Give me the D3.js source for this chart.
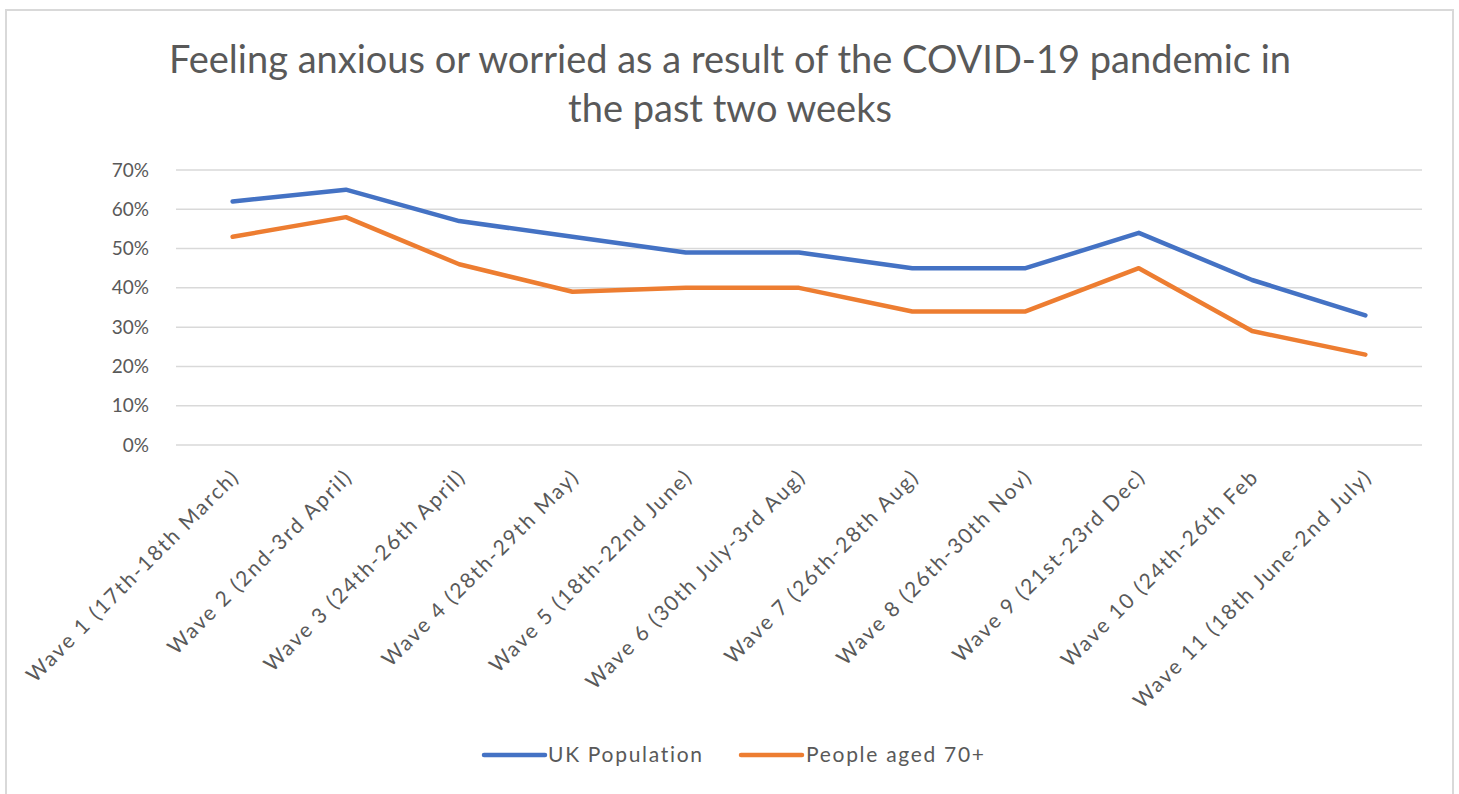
<!DOCTYPE html>
<html>
<head>
<meta charset="utf-8">
<script src="https://cdn.jsdelivr.net/npm/d3@7"></script>
<style>
  html, body { margin: 0; padding: 0; background: #ffffff; }
  svg { display: block; }
  text { font-family: Lato, "Open Sans", sans-serif; fill: #595959; }
</style>
</head>
<body>
<svg id="chart" width="1459" height="794"></svg>
<script>
const categories = [
  "Wave 1 (17th-18th March)",
  "Wave 2 (2nd-3rd April)",
  "Wave 3 (24th-26th April)",
  "Wave 4 (28th-29th May)",
  "Wave 5 (18th-22nd June)",
  "Wave 6 (30th July-3rd Aug)",
  "Wave 7 (26th-28th Aug)",
  "Wave 8 (26th-30th Nov)",
  "Wave 9 (21st-23rd Dec)",
  "Wave 10 (24th-26th Feb",
  "Wave 11 (18th June-2nd July)"
];
const ukPopulation = [0.62, 0.65, 0.57, 0.53, 0.49, 0.49, 0.45, 0.45, 0.54, 0.42, 0.33];
const aged70plus   = [0.53, 0.58, 0.46, 0.39, 0.40, 0.40, 0.34, 0.34, 0.45, 0.29, 0.23];
const yTicks = [0, 0.1, 0.2, 0.3, 0.4, 0.5, 0.6, 0.7];
const seriesNames = ["UK Population", "People aged 70+"];
const seriesColors = ["#4472C4", "#ED7D31"];
const titleLines = ["Feeling anxious or worried as a result of the COVID-19 pandemic in", "the past two weeks"];

const svg = d3.select("#chart");

// chart border
svg.append("rect")
  .attr("x", 6).attr("y", 10).attr("width", 1447).attr("height", 800)
  .attr("fill", "#fff").attr("stroke", "#d9d9d9").attr("stroke-width", 2);

const x = d3.scalePoint().domain(categories).range([176, 1422]).padding(0.5);
const y = d3.scaleLinear().domain([0, 0.7]).range([445, 170]);

// title
svg.append("g").selectAll("text").data(titleLines).join("text")
  .attr("x", 730).attr("y", (d, i) => 73 + i * 49)
  .attr("text-anchor", "middle")
  .style("font-size", "38px")
  .text(d => d);

// gridlines
svg.append("g").selectAll("line").data(yTicks).join("line")
  .attr("x1", 176).attr("x2", 1422)
  .attr("y1", d => y(d)).attr("y2", d => y(d))
  .attr("stroke", "#d9d9d9").attr("stroke-width", 1.5);

// y axis
const yAxis = d3.axisLeft(y).tickValues(yTicks).tickFormat(d3.format(".0%")).tickSize(0).tickPadding(0);
const yg = svg.append("g").attr("transform", "translate(149,0)").call(yAxis);
yg.select(".domain").remove();
yg.selectAll("text").style("font-size", "19px").attr("fill", "#595959").style("font-family", "Lato, sans-serif");

// x axis labels
const xg = svg.append("g");
xg.selectAll("text").data(categories).join("text")
  .attr("transform", d => `translate(${x(d) + 8},${478}) rotate(-45)`)
  .attr("text-anchor", "end")
  .style("font-size", "21px")
  .style("letter-spacing", "1.9px")
  .text(d => d);

// lines
const series = [ukPopulation, aged70plus];
const line = d3.line().x((d, i) => x(categories[i])).y(d => y(d));
svg.append("g").selectAll("path").data(series).join("path")
  .attr("d", d => line(d))
  .attr("fill", "none")
  .attr("stroke", (d, i) => seriesColors[i])
  .attr("stroke-width", 4.5)
  .attr("stroke-linejoin", "round")
  .attr("stroke-linecap", "round");

// legend
const legendItems = [{x: 484, tx: 548}, {x: 741, tx: 806}];
const lg = svg.append("g");
seriesNames.forEach((name, i) => {
  lg.append("line")
    .attr("x1", legendItems[i].x).attr("x2", legendItems[i].x + 61)
    .attr("y1", 755).attr("y2", 755)
    .attr("stroke", seriesColors[i]).attr("stroke-width", 4.5).attr("stroke-linecap", "round");
  lg.append("text")
    .attr("x", legendItems[i].tx).attr("y", 755).attr("dy", "0.35em")
    .style("font-size", "21px")
    .style("letter-spacing", "1.7px")
    .text(name);
});
</script>
</body>
</html>
